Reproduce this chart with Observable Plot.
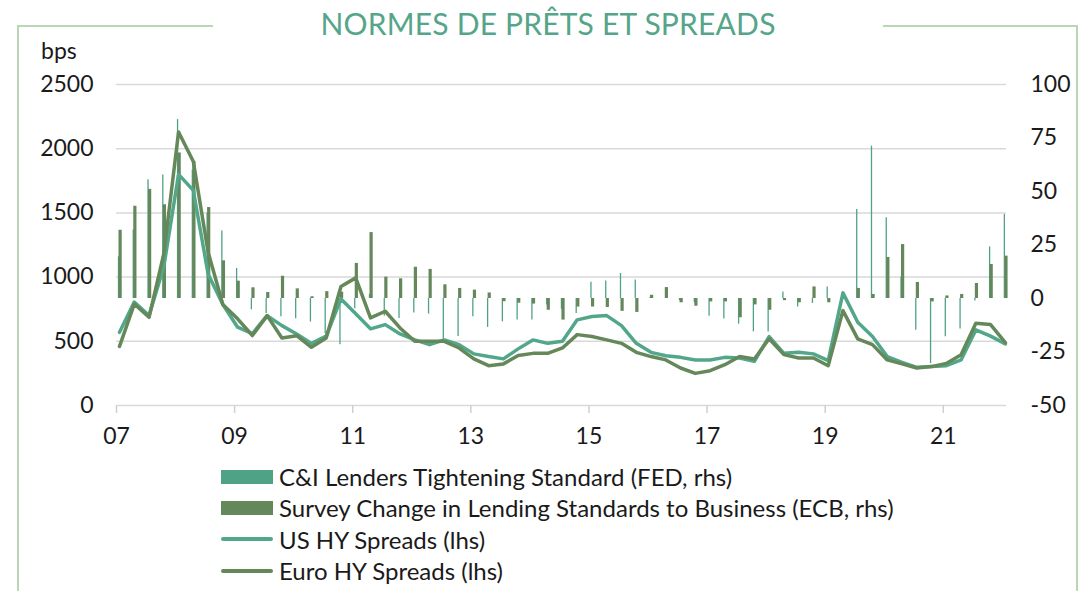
<!DOCTYPE html>
<html>
<head>
<meta charset="utf-8">
<script src="https://cdn.jsdelivr.net/npm/d3@7"></script>
<script src="https://cdn.jsdelivr.net/npm/@observablehq/plot@0.6"></script>
<style>
  html, body { margin: 0; padding: 0; background: #fff; }
  body { width: 1092px; height: 591px; position: relative; overflow: hidden; font-family: Lato, "Open Sans", sans-serif; color: #1a1a1a; }
  #chart { position: absolute; left: 0; top: 0; }
  .frame { position: absolute; background: #bad6b5; }
  #title { position: absolute; left: 213px; width: 670px; top: 8px; text-align: center; font-size: 30px; line-height: 30px; color: #55a58a; letter-spacing: 0.2px; }
  #bps { position: absolute; left: 41px; top: 37px; font-size: 23px; line-height: 27px; }
  #legend { position: absolute; left: 221px; top: 461px; }
  .row { height: 31.3px; line-height: 31px; font-size: 24px; display: flex; align-items: center; white-space: nowrap; }
  .sw { width: 52px; margin-right: 6px; flex: none; }
</style>
</head>
<body>
<div class="frame" style="left:17px; top:25px; width:2px; height:570px;"></div>
<div class="frame" style="left:17px; top:25px; width:196px; height:2px;"></div>
<div class="frame" style="left:883px; top:25px; width:195px; height:2px;"></div>
<div class="frame" style="left:1076px; top:25px; width:2px; height:570px;"></div>
<div id="title">NORMES DE PRÊTS ET SPREADS</div>
<div id="bps">bps</div>
<div id="chart"></div>
<div id="legend"></div>
<script>
// Quarterly periods (category axis)
const periods = [
  "07Q1","07Q2","07Q3","07Q4","08Q1","08Q2","08Q3","08Q4","09Q1","09Q2",
  "09Q3","09Q4","10Q1","10Q2","10Q3","10Q4","11Q1","11Q2","11Q3","11Q4",
  "12Q1","12Q2","12Q3","12Q4","13Q1","13Q2","13Q3","13Q4","14Q1","14Q2",
  "14Q3","14Q4","15Q1","15Q2","15Q3","15Q4","16Q1","16Q2","16Q3","16Q4",
  "17Q1","17Q2","17Q3","17Q4","18Q1","18Q2","18Q3","18Q4","19Q1","19Q2",
  "19Q3","19Q4","20Q1","20Q2","20Q3","20Q4","21Q1","21Q2","21Q3","21Q4",
  "22Q1"
];
// C&I Lenders Tightening Standard (FED, rhs, %)
const fedRhs = [
  19.5, 32, 55.5, 57.7, 83.6, 60, 40, 31.6, 14, -5.3,
  -7, -8.5, -9.5, -11, -16.4, -21.6, -4.8, 2, -8.3, -9.3,
  -6.8, -7.3, -19, -17.8, -8.5, -13.5, -10.9, -10.1, -10.1, -3,
  -5, -7, 7.6, 8.2, 11.7, 8.6, 0.5, 0, -1, -2,
  -8.3, -9.6, -12, -15.6, -15.6, 3, -4, -2.3, 5.4, 0,
  41.6, 71.2, 37.7, 10, -14.8, -30.4, -17.9, -14.3, -1.2, 24.1,
  39.3
];
// Survey Change in Lending Standards to Business (ECB, rhs, %)
const ecbRhs = [
  31.9, 43.1, 51, 43.8, 68, 64, 42.5, 17.6, 8.1, 5.0,
  2.8, 10.4, 4.5, 0.8, 3.2, 3, 16.4, 30.8, 10, 9.2,
  14.6, 13.6, 6.4, 4.7, 3.9, 2.6, -1.5, -2.2, -2.6, -5.5,
  -10.1, -4, -4, -4.2, -6, -6.5, 1.5, 5.1, -2, -3.6,
  -1.6, -1.6, -9, -3, -5.5, -1, -2, 5.4, -2, 1,
  4.7, 1.9, 19.2, 25.2, 7.5, -1.6, 1.2, 1.9, 7, 15.9,
  19.8
];
// US HY Spreads (lhs, bps)
const usHy = [
  570, 805, 700, 1080, 1800, 1675, 1025, 786, 610, 560,
  700, 622, 557, 484, 540, 830, 714, 597, 630, 557,
  511, 474, 511, 474, 402, 381, 363, 441, 511, 484,
  500, 667, 693, 700, 622, 484, 414, 388, 375, 355,
  355, 375, 370, 344, 537, 406, 414, 402, 349, 877,
  648, 537, 381, 336, 297, 303, 310, 355, 589, 540,
  480
];
// Euro HY Spreads (lhs, bps)
const euroHy = [
  460, 790, 687, 1181, 2130, 1900, 1195, 786, 675, 545,
  700, 526, 544, 453, 525, 927, 994, 682, 734, 604,
  500, 500, 500, 448, 363, 310, 324, 389, 406, 406,
  448, 552, 537, 511, 484, 414, 381, 355, 292, 250,
  271, 318, 381, 362, 520, 396, 370, 370, 310, 739,
  519, 474, 355, 324, 292, 303, 328, 396, 640, 630,
  490
];
const lhsTicks = [0, 500, 1000, 1500, 2000, 2500];
const rhsTicks = [-50, -25, 0, 25, 50, 75, 100];
const xTickYears = [2007, 2009, 2011, 2013, 2015, 2017, 2019, 2021];
const xTickLabels = ["07", "09", "11", "13", "15", "17", "19", "21"];

const seriesNames = [
  "C&I Lenders Tightening Standard (FED, rhs)",
  "Survey Change in Lending Standards to Business (ECB, rhs)",
  "US HY Spreads (lhs)",
  "Euro HY Spreads (lhs)"
];
const colors = { fed: "#4fa286", ecb: "#64875b", us: "#52a78a", euro: "#65885b" };

// map right-hand scale (-50..100) onto left-hand scale (0..2500)
const toL = r => (r + 50) * 2500 / 150;
const toR = l => l * 150 / 2500 - 50;
const t = p => 2000 + +p.slice(0, 2) + (+p[3] - 1) * 0.25;

const rows = periods.map((p, i) => ({
  t: t(p), fed: toL(fedRhs[i]), ecb: toL(ecbRhs[i]), us: usHy[i], euro: euroHy[i]
}));
const base = toL(0);

const chart = Plot.plot({
  width: 1092,
  height: 460,
  marginLeft: 116,
  marginRight: 86,
  marginTop: 84,
  marginBottom: 55,
  style: { fontFamily: "Lato, 'Open Sans', sans-serif", fontSize: "23px", color: "#1a1a1a", background: "transparent" },
  x: { type: "linear", domain: [2007, 2022.07] },
  y: { domain: [0, 2500] },
  marks: [
    Plot.gridY(lhsTicks, { stroke: "#d9d9d9", strokeOpacity: 1, strokeWidth: 1.5 }),
    Plot.axisY(lhsTicks, { anchor: "left", tickSize: 0, tickPadding: 23, label: null, tickFormat: d => String(d), fill: "#1a1a1a" }),
    Plot.axisY(rhsTicks.map(toL), { anchor: "right", tickSize: 0, tickPadding: 24, label: null, tickFormat: v => String(Math.round(toR(v))), textAnchor: "start", fill: "#1a1a1a" }),
    Plot.axisX(xTickYears, { anchor: "bottom", tickSize: 8, tickPadding: 14, label: null, tickFormat: (d, i) => xTickLabels[i], stroke: "#d0d0d0", strokeWidth: 1.5, fill: "#1a1a1a" }),
    Plot.ruleX(rows, { x: "t", y1: base, y2: "fed", stroke: colors.fed, strokeWidth: 1.3, dx: 2 }),
    Plot.ruleX(rows, { x: "t", y1: base, y2: "ecb", stroke: colors.ecb, strokeWidth: 3.2, dx: 3.6 }),
    Plot.line(rows, { x: "t", y: "us", stroke: colors.us, strokeWidth: 3.5, strokeLinejoin: "round", dx: 3 }),
    Plot.line(rows, { x: "t", y: "euro", stroke: colors.euro, strokeWidth: 3.5, strokeLinejoin: "round", dx: 3 })
  ]
});
document.getElementById("chart").appendChild(chart);

// Legend
const legend = document.getElementById("legend");
const swatches = [
  { c: colors.fed, h: 14 },
  { c: colors.ecb, h: 14 },
  { c: colors.us, h: 4 },
  { c: colors.euro, h: 4 }
];
seriesNames.forEach((name, i) => {
  const row = document.createElement("div");
  row.className = "row";
  const sw = document.createElement("div");
  sw.className = "sw";
  sw.style.height = swatches[i].h + "px";
  sw.style.background = swatches[i].c;
  if (swatches[i].h < 10) sw.style.borderRadius = "2px";
  const tx = document.createElement("span");
  tx.textContent = name;
  row.appendChild(sw);
  row.appendChild(tx);
  legend.appendChild(row);
});
</script>
</body>
</html>
